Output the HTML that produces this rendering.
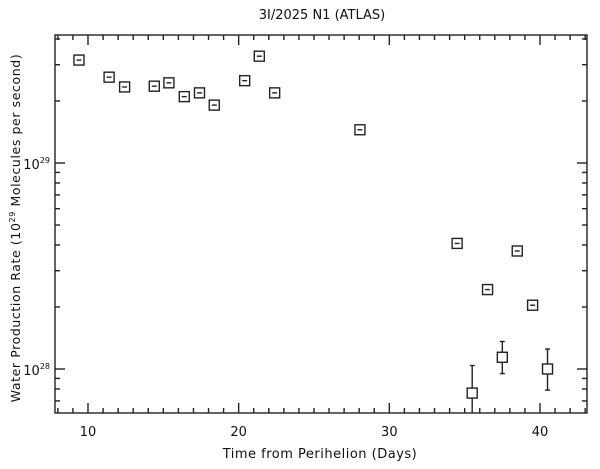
<!DOCTYPE html>
<html><head><meta charset="utf-8"><style>
html,body{margin:0;padding:0;background:#fff;}
svg{display:block;font-family:"DejaVu Sans","Liberation Sans",sans-serif;}
</style></head><body>
<svg id="chart" width="600" height="469" viewBox="0 0 600 469"></svg>
<script>
const days = [9.4,11.4,12.43,14.4,15.37,16.39,17.4,18.38,20.4,21.37,22.39,28.05,34.5,35.5,36.52,37.5,38.49,39.51,40.5];
const rates = [3.16e29,2.61e29,2.34e29,2.36e29,2.45e29,2.10e29,2.19e29,1.91e29,2.51e29,3.30e29,2.19e29,1.45e29,4.07e28,7.64e27,2.43e28,1.14e28,3.74e28,2.04e28,1.0e28];
const errLo = [3.1e29,2.57e29,2.3e29,2.32e29,2.41e29,2.06e29,2.15e29,1.87e29,2.46e29,3.18e29,2.15e29,1.42e29,3.95e28,5e27,2.35e28,9.5e27,3.6e28,1.93e28,7.9e27];
const errHi = [3.22e29,2.65e29,2.38e29,2.4e29,2.49e29,2.14e29,2.23e29,1.95e29,2.56e29,3.42e29,2.23e29,1.48e29,4.2e28,1.04e28,2.51e28,1.36e28,3.88e28,2.15e28,1.25e28];
const xTicks = [10,20,30,40];
const yDecades = [28,29];

const L=55,R=587,T=35,B=413;
const X0=7.81,X1=43.12;
const dec=206, y29=163;
const sx=d=>L+(d-X0)/(X1-X0)*(R-L);
const sy=v=>y29-(Math.log10(v)-29)*dec;
const svg=document.getElementById('chart');
const NS='http://www.w3.org/2000/svg';
function mk(tag,attrs,parent){const e=document.createElementNS(NS,tag);for(const k in attrs)e.setAttribute(k,attrs[k]);(parent||svg).appendChild(e);return e;}
const stroke={stroke:'#222','stroke-width':1.4,fill:'none'};

const frame=mk('rect',Object.assign({x:L,y:T,width:R-L,height:B-T},stroke));



for(let d=8;d<=43;d++){
  const x=sx(d), major=d%10===0, len=major?10:5;
  const t1=mk('line',Object.assign({x1:x,x2:x,y1:B,y2:B-len},stroke));
  
  
  const t2=mk('line',Object.assign({x1:x,x2:x,y1:T,y2:T+len},stroke));
  
  
}
xTicks.forEach(d=>{
  const t=mk('text',{x:sx(d),y:436,'text-anchor':'middle','font-size':13,fill:'#111'});
  t.textContent=d;
  
  
});
for(let e=27;e<=29;e++){
  for(let m=1;m<=9;m++){
    const v=m*Math.pow(10,e), y=sy(v);
    if(y<T||y>B) continue;
    const len=m===1?10:5;
    const a=mk('line',Object.assign({x1:L,x2:L+len,y1:y,y2:y},stroke));
    
    
    const b=mk('line',Object.assign({x1:R,x2:R-len,y1:y,y2:y},stroke));
    
    
  }
}
yDecades.forEach(e=>{
  const t=mk('text',{x:50,y:sy(Math.pow(10,e))+6,'text-anchor':'end','font-size':13,fill:'#111'});
  
  
  const a=mk('tspan',{},t);a.textContent='10';
  const s=mk('tspan',{'font-size':8,dy:-6},t);s.textContent=e;
});
const H=5;
days.forEach((d,i)=>{
  const x=sx(d), y=sy(rates[i]);
  const g=mk('g',{});
  
  
  const yl=Math.min(sy(errLo[i]),B), yh=sy(errHi[i]);
  if(yh<y-H){
    mk('line',Object.assign({x1:x,x2:x,y1:y-H,y2:yh},stroke),g);
    mk('line',Object.assign({x1:x-2.5,x2:x+2.5,y1:yh,y2:yh},stroke),g);
  }
  if(yl>y+H){
    mk('line',Object.assign({x1:x,x2:x,y1:y+H,y2:yl},stroke),g);
    if(sy(errLo[i])<B) mk('line',Object.assign({x1:x-2.5,x2:x+2.5,y1:yl,y2:yl},stroke),g);
  }
  mk('rect',Object.assign({x:x-H,y:y-H,width:2*H,height:2*H},stroke),g);
  if(yh>y-H && yl<y+H) mk('line',Object.assign({x1:x-2.5,x2:x+2.5,y1:y,y2:y},stroke),g);
});
const title=mk('text',{x:322,y:19,'text-anchor':'middle','font-size':13,fill:'#111'});
title.textContent='3I/2025 N1 (ATLAS)';


const xt=mk('text',{x:320,y:458,'text-anchor':'middle','font-size':13,fill:'#111','letter-spacing':'0.5'});
xt.textContent='Time from Perihelion (Days)';


const yt=mk('text',{x:0,y:0,'text-anchor':'middle','font-size':12.5,fill:'#111','letter-spacing':'0.6',transform:'translate(20,228) rotate(-90)'});


mk('tspan',{},yt).textContent='Water Production Rate (10';
const sup=mk('tspan',{'font-size':8,dy:-5},yt);sup.textContent='29';
mk('tspan',{dy:5},yt).textContent=' Molecules per second)';
</script>
</body></html>
